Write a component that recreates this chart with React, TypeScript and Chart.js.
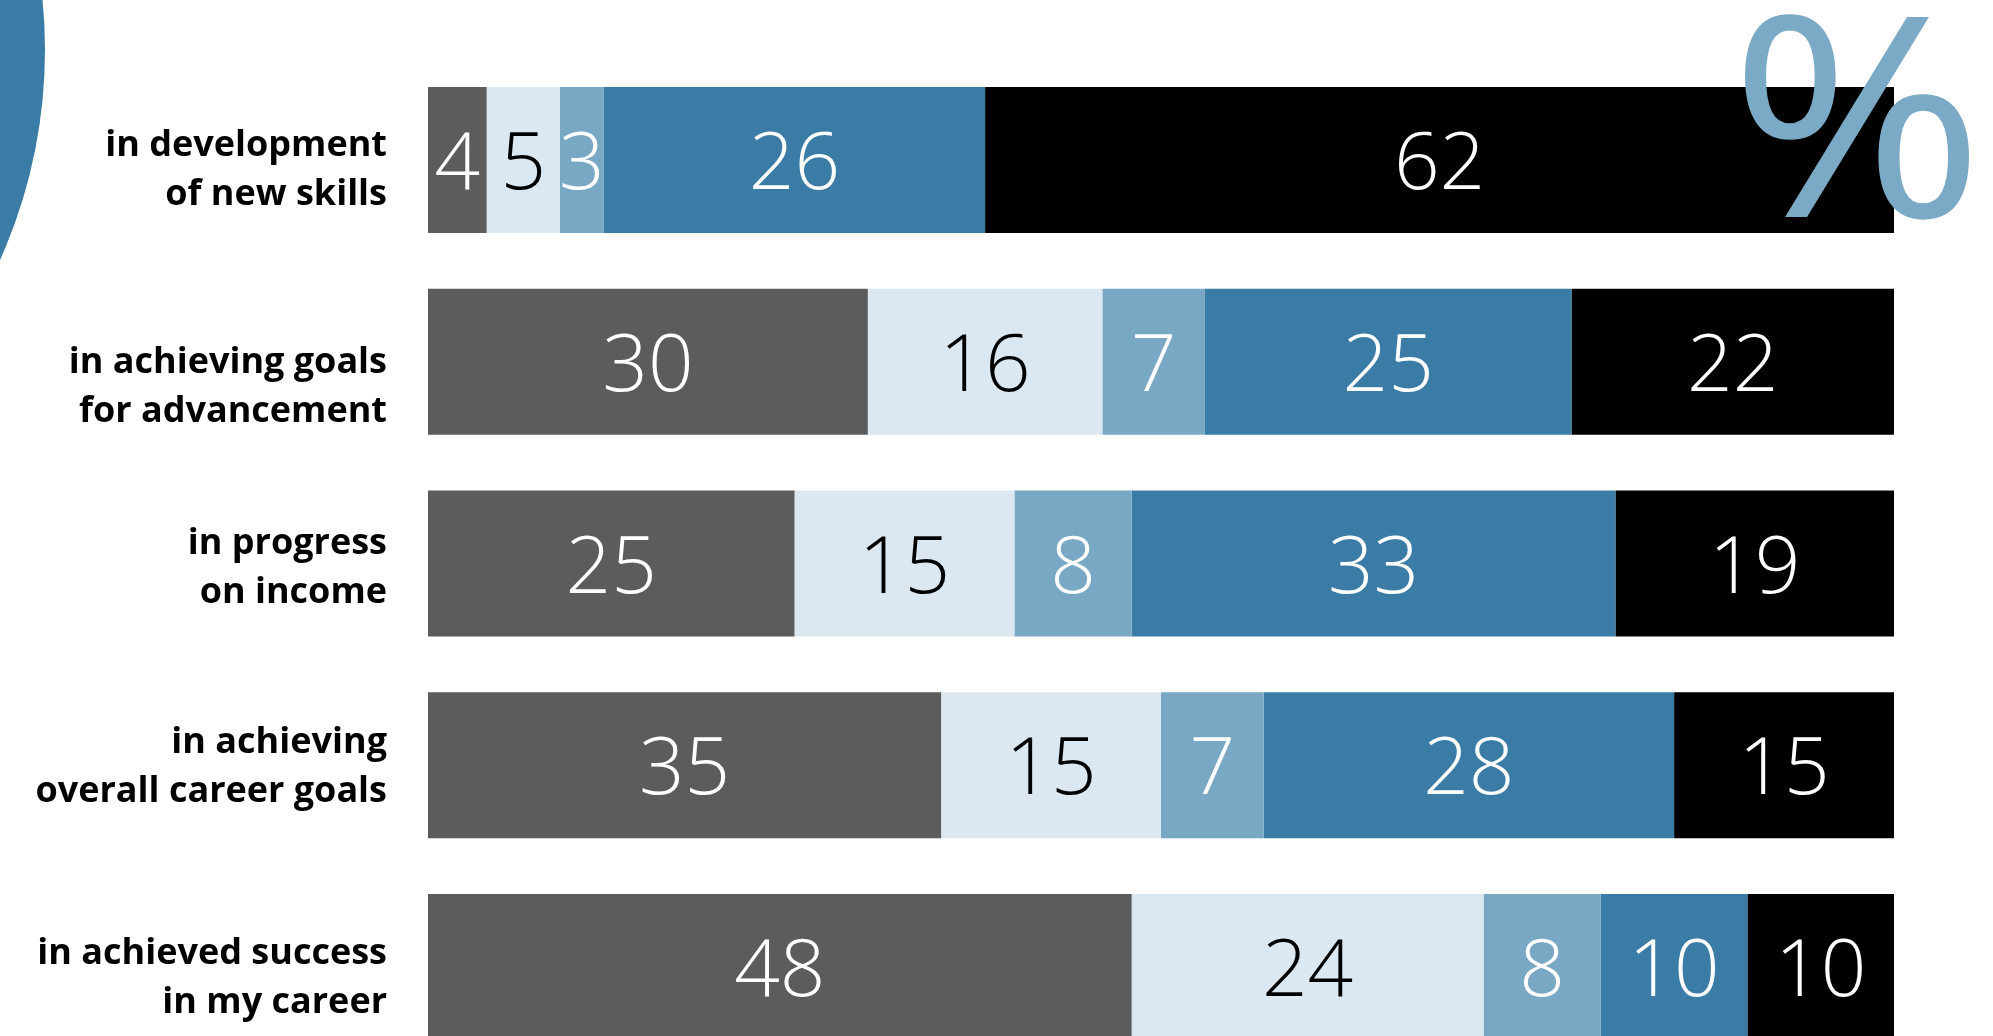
import React, { useEffect, useRef } from "react";
import { Chart, registerables } from "chart.js";

Chart.register(...registerables);

const categories: string[][] = [
  ["in development", "of new skills"],
  ["in achieving goals", "for advancement"],
  ["in progress", "on income"],
  ["in achieving", "overall career goals"],
  ["in achieved success", "in my career"],
];

const seriesNames = ["Response 1", "Response 2", "Response 3", "Response 4", "Response 5"];
const series1 = [4, 30, 25, 35, 48];
const series2 = [5, 16, 15, 15, 24];
const series3 = [3, 7, 8, 7, 8];
const series4 = [26, 25, 33, 28, 10];
const series5 = [62, 22, 19, 15, 10];

// styling (not data)
const barColors = ["#5c5c5c", "#dce8f1", "#79a8c4", "#3a7ca6", "#000000"];
const labelColors = ["#ffffff", "#000000", "#ffffff", "#ffffff", "#ffffff"];
const tickLabelNudge = [10, 26, 5, 2, 11];

const decorPlugin = {
  id: "decor",
  beforeDraw(chart: any) {
    const ctx = chart.ctx;
    ctx.save();
    ctx.fillStyle = "#3a7ca6";
    ctx.beginPath();
    ctx.arc(-467, 50, 512, 0, Math.PI * 2);
    ctx.fill();
    ctx.restore();
    // nudge the category tick labels vertically as in the original layout
    const ys = chart.scales.y;
    if (ys && !ys._nudged) {
      const items = ys.getLabelItems(chart.chartArea);
      items.forEach((it: any, i: number) => {
        if (it && it.options && it.options.translation) {
          it.options.translation = [it.options.translation[0], it.options.translation[1] + (tickLabelNudge[i] || 0)];
        }
      });
      ys._nudged = true;
    }
  },
  afterDatasetsDraw(chart: any) {
    const ctx = chart.ctx;
    ctx.save();
    ctx.font = "300 80px 'Open Sans', 'Noto Sans', sans-serif";
    ctx.textAlign = "center";
    ctx.textBaseline = "alphabetic";
    chart.data.datasets.forEach((ds: any, di: number) => {
      const meta = chart.getDatasetMeta(di);
      meta.data.forEach((el: any, i: number) => {
        const v = ds.data[i];
        const cx = (el.x + el.base) / 2;
        ctx.fillStyle = labelColors[di];
        ctx.fillText(String(v), cx, el.y + 29);
      });
    });
    // big percent sign
    ctx.fillStyle = "#7aaac6";
    ctx.font = "400 280px 'Open Sans', 'Noto Sans', sans-serif";
    ctx.textAlign = "center";
    ctx.translate(1857, 217);
    ctx.scale(1.1, 1);
    ctx.fillText("%", 0, 0);
    ctx.restore();
  },
};

export default function App() {
  const ref = useRef<HTMLCanvasElement | null>(null);
  useEffect(() => {
    if (!ref.current) return;
    const data = [series1, series2, series3, series4, series5];
    const chart = new Chart(ref.current, {
      type: "bar",
      data: {
        labels: categories,
        datasets: data.map((d, i) => ({
          label: seriesNames[i],
          data: d,
          backgroundColor: barColors[i],
          borderWidth: 0,
          barPercentage: 0.7237,
          categoryPercentage: 1,
        })),
      },
      options: {
        indexAxis: "y",
        animation: false,
        responsive: true,
        maintainAspectRatio: false,
        layout: { padding: { top: 59, right: 99, bottom: 0, left: 0 } },
        plugins: { legend: { display: false }, tooltip: { enabled: false } },
        scales: {
          x: { stacked: true, min: 0, max: 100, display: false },
          y: {
            stacked: true,
            grid: { display: false, drawTicks: false },
            border: { display: false },
            afterFit(scale: any) {
              scale.width = 428;
              scale.paddingTop = 0;
              scale.paddingBottom = 0;
            },
            afterUpdate(scale: any) {
              scale._nudged = false;
            },
            ticks: {
              padding: 41,
              color: "#000000",
              font: { family: "'Open Sans', 'Noto Sans', sans-serif", weight: "bold", size: 36, lineHeight: 1.36 },
            },
          },
        },
      },
      plugins: [decorPlugin],
    } as any);
    return () => chart.destroy();
  }, []);
  return (
    <div style={{ position: "absolute", left: 0, top: 0, width: 1993, height: 1036, overflow: "hidden", background: "#ffffff" }}>
      <div style={{ position: "relative", width: 1993, height: 1068 }}>
        <canvas ref={ref} />
      </div>
    </div>
  );
}
